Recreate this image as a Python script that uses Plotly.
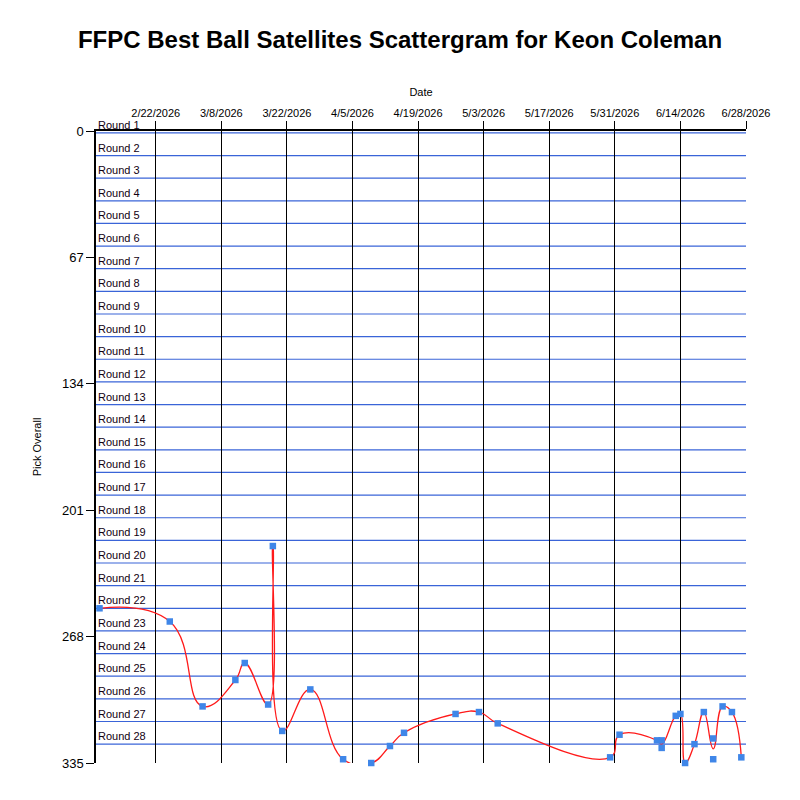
import pandas as pd
import plotly.graph_objects as go

# pick dates and overall pick numbers
dates = ['2026-02-10', '2026-02-25', '2026-03-04', '2026-03-11', '2026-03-13',
         '2026-03-18', '2026-03-19', '2026-03-21', '2026-03-27', '2026-04-03',
         '2026-04-09', '2026-04-13', '2026-04-16', '2026-04-27', '2026-05-02',
         '2026-05-06', '2026-05-30', '2026-06-01', '2026-06-09', '2026-06-10',
         '2026-06-10', '2026-06-13', '2026-06-14', '2026-06-15', '2026-06-17',
         '2026-06-19', '2026-06-21', '2026-06-21', '2026-06-23', '2026-06-25',
         '2026-06-27']
picks = [253, 260, 305, 291, 282,
         304, 220, 318, 296, 333,
         335, 326, 319, 309, 308,
         314, 332, 320, 323, 323,
         327, 310, 309, 335, 325,
         308, 322, 333, 305, 308,
         332]

y_ticks = [0, 67, 134, 201, 268, 335]
x_ticks = ['2026-02-22', '2026-03-08', '2026-03-22', '2026-04-05', '2026-04-19',
           '2026-05-03', '2026-05-17', '2026-05-31', '2026-06-14', '2026-06-28']
round_labels = ['Round %d' % r for r in range(1, 29)]
teams = 12

df = pd.DataFrame({'date': pd.to_datetime(dates), 'pick': picks})
# the line runs through the average pick of each day
avg = df.groupby('date', as_index=False)['pick'].mean()

fig = go.Figure()

fig.add_trace(go.Scatter(x=avg['date'], y=avg['pick'], mode='lines',
                         line=dict(color='#ff1a1a', width=1.3, shape='spline', smoothing=1.3),
                         hoverinfo='skip', showlegend=False))
fig.add_trace(go.Scatter(x=df['date'], y=df['pick'], mode='markers',
                         marker=dict(symbol='square', size=6.5, color='#3f86e8'),
                         cliponaxis=False, showlegend=False))

# one blue line and one label per round
for i, lab in enumerate(round_labels):
    line_y = i * teams + 1
    fig.add_shape(type='line', xref='paper', yref='y', x0=0, x1=1, y0=line_y, y1=line_y,
                  line=dict(color='#3a64d8', width=1.2), layer='below')
    fig.add_annotation(x=0, xref='paper', y=line_y, yref='y', text=lab, showarrow=False,
                       xanchor='left', yanchor='bottom', xshift=0, yshift=0,
                       font=dict(size=11, color='#110011'))

# page body adds 8px, so margins are 8px smaller on the left/top
fig.update_layout(
    title=dict(text='<b>FFPC Best Ball Satellites Scattergram for Keon Coleman</b>',
               x=0.49, xanchor='center', y=0.96, yanchor='middle',
               font=dict(size=24, color='black', family='Liberation Sans, Arial')),
    width=800, height=800,
    margin=dict(l=88, r=62, t=123, b=45),
    paper_bgcolor='white', plot_bgcolor='white',
    font=dict(family='Liberation Sans, Arial', size=11, color='black'),
    xaxis=dict(title=dict(text='Date', standoff=8, font=dict(size=11)), side='top',
               type='date', range=['2026-02-09 06:00', '2026-06-28'],
               tickmode='array', tickvals=x_ticks, tickformat='%-m/%-d/%Y',
               ticks='outside', ticklen=8, tickcolor='black', automargin=False,
               showgrid=True, gridcolor='black', gridwidth=1,
               showline=True, linecolor='black', linewidth=1.5, zeroline=False),
    yaxis=dict(title=dict(text='Pick Overall', standoff=18, font=dict(size=11)),
               range=[335, 0], tickmode='array', tickvals=y_ticks, automargin=False,
               ticks='outside', ticklen=8, tickcolor='black', tickfont=dict(size=13),
               showgrid=False, showline=True, linecolor='black', linewidth=1.5,
               zeroline=False),
)

fig.write_html('out.html')
